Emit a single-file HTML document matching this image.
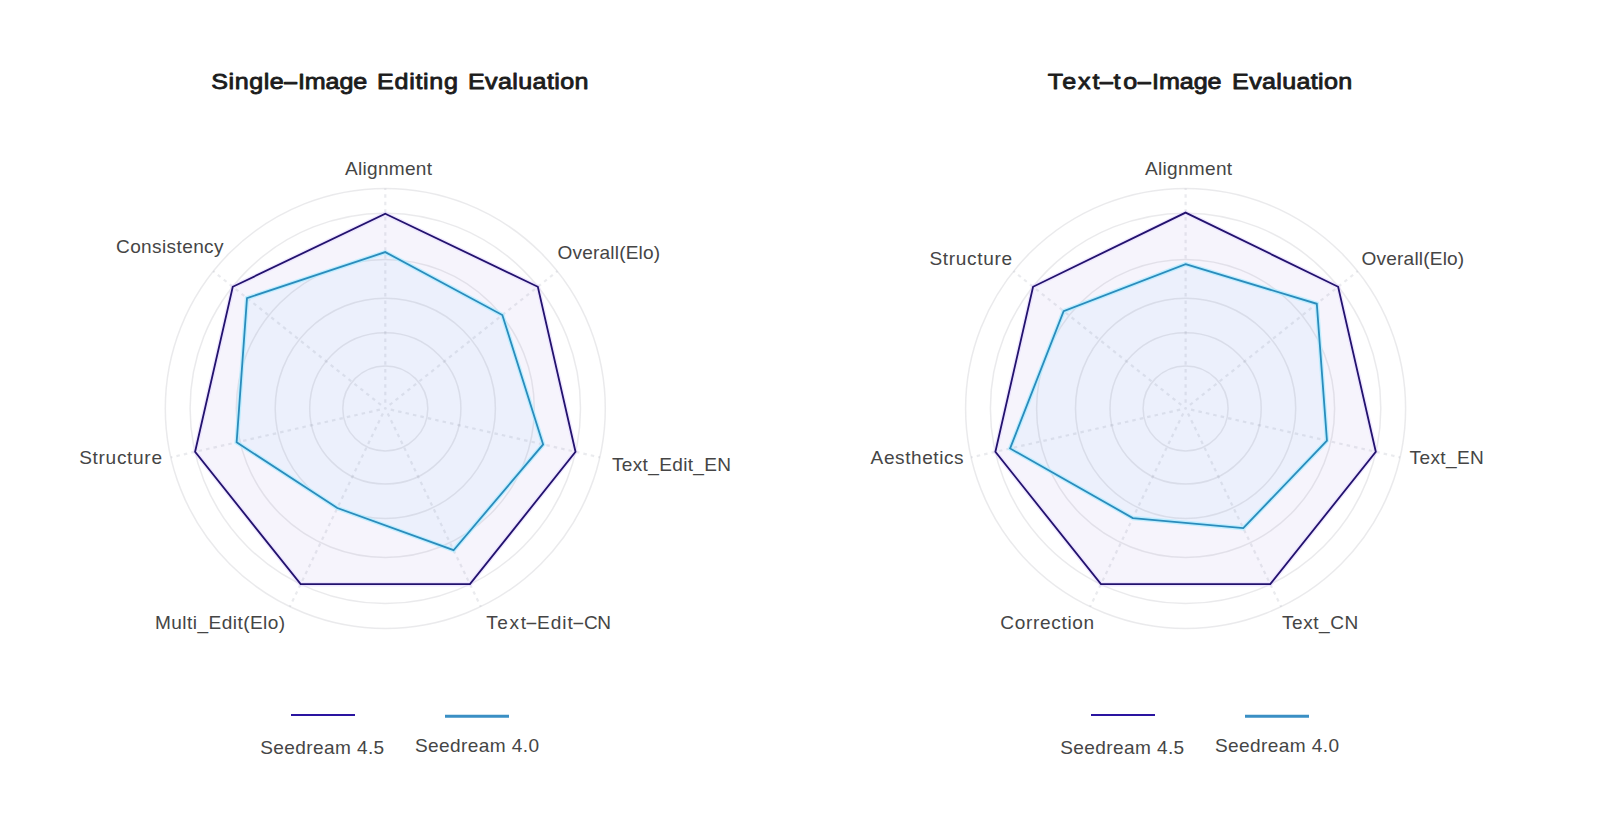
<!DOCTYPE html>
<html lang="en"><head><meta charset="utf-8"><title>Seedream Evaluation</title>
<style>
html,body{margin:0;padding:0;background:#fff;}
body{width:1600px;height:818px;overflow:hidden;font-family:"Liberation Sans",sans-serif;}
svg{display:block}
.lb{font-family:"Liberation Sans",sans-serif;font-size:18px;fill:#454545;}
.tt{font-family:"Liberation Sans",sans-serif;font-size:22px;font-weight:normal;fill:#1c1c1c;stroke:#1c1c1c;stroke-width:0.85px;stroke-linejoin:round;vector-effect:non-scaling-stroke;}
</style></head><body>
<svg width="1600" height="818" viewBox="0 0 1600 818">
<rect width="1600" height="818" fill="#fff"/>
<polygon points="385.30,213.70 537.84,286.76 575.51,451.81 469.95,584.18 300.65,584.18 195.09,451.81 232.76,286.76" fill="#f6f4fc"/>
<polygon points="385.30,252.10 502.34,315.06 543.14,444.43 453.59,550.21 337.31,508.05 236.62,442.33 246.99,298.10" fill="#ecf0fc"/>
<circle cx="385.3" cy="408.4" r="42.5" fill="none" stroke="rgba(100,100,112,0.135)" stroke-width="1.5"/>
<circle cx="385.3" cy="408.4" r="75.6" fill="none" stroke="rgba(100,100,112,0.135)" stroke-width="1.5"/>
<circle cx="385.3" cy="408.4" r="110.1" fill="none" stroke="rgba(100,100,112,0.135)" stroke-width="1.5"/>
<circle cx="385.3" cy="408.4" r="149.0" fill="none" stroke="rgba(100,100,112,0.135)" stroke-width="1.5"/>
<circle cx="385.3" cy="408.4" r="195.2" fill="none" stroke="rgba(100,100,112,0.135)" stroke-width="1.5"/>
<circle cx="385.3" cy="408.4" r="220.0" fill="none" stroke="rgba(100,100,112,0.135)" stroke-width="1.5"/>
<line x1="385.30" y1="402.85" x2="385.30" y2="188.40" stroke="rgba(110,115,140,0.145)" stroke-width="2.2" stroke-dasharray="3.5 4.1"/>
<line x1="389.64" y1="404.94" x2="557.30" y2="271.23" stroke="rgba(110,115,140,0.145)" stroke-width="2.2" stroke-dasharray="3.5 4.1"/>
<line x1="390.71" y1="409.63" x2="599.78" y2="457.35" stroke="rgba(110,115,140,0.145)" stroke-width="2.2" stroke-dasharray="3.5 4.1"/>
<line x1="387.71" y1="413.40" x2="480.75" y2="606.61" stroke="rgba(110,115,140,0.145)" stroke-width="2.2" stroke-dasharray="3.5 4.1"/>
<line x1="382.89" y1="413.40" x2="289.85" y2="606.61" stroke="rgba(110,115,140,0.145)" stroke-width="2.2" stroke-dasharray="3.5 4.1"/>
<line x1="379.89" y1="409.63" x2="170.82" y2="457.35" stroke="rgba(110,115,140,0.145)" stroke-width="2.2" stroke-dasharray="3.5 4.1"/>
<line x1="380.96" y1="404.94" x2="213.30" y2="271.23" stroke="rgba(110,115,140,0.145)" stroke-width="2.2" stroke-dasharray="3.5 4.1"/>
<circle cx="385.3" cy="408.4" r="1.4" fill="rgba(110,115,140,0.145)"/>
<polygon points="385.30,213.70 537.84,286.76 575.51,451.81 469.95,584.18 300.65,584.18 195.09,451.81 232.76,286.76" fill="none" stroke="rgba(225,212,255,0.5)" stroke-width="4.4" stroke-linejoin="miter"/>
<polygon points="385.30,252.10 502.34,315.06 543.14,444.43 453.59,550.21 337.31,508.05 236.62,442.33 246.99,298.10" fill="none" stroke="rgba(180,236,255,0.8)" stroke-width="4.4" stroke-linejoin="miter"/>
<polygon points="385.30,213.70 537.84,286.76 575.51,451.81 469.95,584.18 300.65,584.18 195.09,451.81 232.76,286.76" fill="none" stroke="#22126e" stroke-width="1.8" stroke-linejoin="miter"/>
<polygon points="385.30,252.10 502.34,315.06 543.14,444.43 453.59,550.21 337.31,508.05 236.62,442.33 246.99,298.10" fill="none" stroke="#2a8cbc" stroke-width="1.8" stroke-linejoin="miter"/>
<text class="lb" transform="translate(345.00,175.00) scale(1.06,1)" textLength="82.08" lengthAdjust="spacing">Alignment</text>
<text class="lb" transform="translate(557.60,258.50) scale(1.06,1)" textLength="96.70" lengthAdjust="spacing">Overall(Elo)</text>
<text class="lb" transform="translate(612.00,470.50) scale(1.06,1)" textLength="112.36" lengthAdjust="spacing">Text_Edit_EN</text>
<text class="lb" transform="translate(0,628.90) scale(1.06,1)"><tspan x="458.68" textLength="37.55" lengthAdjust="spacing">Text</tspan><tspan x="495.17" textLength="12.49" lengthAdjust="spacingAndGlyphs">-</tspan><tspan x="506.60" textLength="33.77" lengthAdjust="spacing">Edit</tspan><tspan x="539.44" textLength="12.35" lengthAdjust="spacingAndGlyphs">-</tspan><tspan x="550.85" textLength="25.57" lengthAdjust="spacing">CN</tspan></text>
<text class="lb" transform="translate(155.00,628.90) scale(1.06,1)" textLength="122.83" lengthAdjust="spacing">Multi_Edit(Elo)</text>
<text class="lb" transform="translate(79.20,464.20) scale(1.06,1)" textLength="78.11" lengthAdjust="spacing">Structure</text>
<text class="lb" transform="translate(116.00,252.50) scale(1.06,1)" textLength="101.46" lengthAdjust="spacing">Consistency</text>
<text class="tt" transform="translate(0,88.50) scale(1.14,1)"><tspan x="185.31" textLength="63.60" lengthAdjust="spacing">Single</tspan><tspan x="247.73" textLength="14.19" lengthAdjust="spacingAndGlyphs">-</tspan><tspan x="261.40" textLength="60.75" lengthAdjust="spacing">Image</tspan> <tspan x="330.79" textLength="70.88" lengthAdjust="spacing">Editing</tspan> <tspan x="410.53" textLength="105.70" lengthAdjust="spacing">Evaluation</tspan></text>
<line x1="291" y1="715" x2="355" y2="715" stroke="#2a14a0" stroke-width="2.2"/>
<line x1="445" y1="716.2" x2="509" y2="716.2" stroke="#3a8fc4" stroke-width="3"/>
<text class="lb" transform="translate(260.20,753.60) scale(1.06,1)" textLength="116.98" lengthAdjust="spacing">Seedream 4.5</text>
<text class="lb" transform="translate(415.00,752.40) scale(1.06,1)" textLength="116.98" lengthAdjust="spacing">Seedream 4.0</text>
<polygon points="1185.60,212.60 1338.14,286.76 1375.81,451.81 1270.25,584.18 1100.95,584.18 995.39,451.81 1033.06,286.76" fill="#f6f4fc"/>
<polygon points="1185.60,264.10 1316.79,303.78 1326.96,440.67 1243.26,528.14 1132.80,518.05 1010.11,448.45 1063.63,311.14" fill="#ecf0fc"/>
<circle cx="1185.6" cy="408.4" r="42.5" fill="none" stroke="rgba(100,100,112,0.135)" stroke-width="1.5"/>
<circle cx="1185.6" cy="408.4" r="75.6" fill="none" stroke="rgba(100,100,112,0.135)" stroke-width="1.5"/>
<circle cx="1185.6" cy="408.4" r="110.1" fill="none" stroke="rgba(100,100,112,0.135)" stroke-width="1.5"/>
<circle cx="1185.6" cy="408.4" r="149.0" fill="none" stroke="rgba(100,100,112,0.135)" stroke-width="1.5"/>
<circle cx="1185.6" cy="408.4" r="195.2" fill="none" stroke="rgba(100,100,112,0.135)" stroke-width="1.5"/>
<circle cx="1185.6" cy="408.4" r="220.0" fill="none" stroke="rgba(100,100,112,0.135)" stroke-width="1.5"/>
<line x1="1185.60" y1="402.85" x2="1185.60" y2="188.40" stroke="rgba(110,115,140,0.145)" stroke-width="2.2" stroke-dasharray="3.5 4.1"/>
<line x1="1189.94" y1="404.94" x2="1357.60" y2="271.23" stroke="rgba(110,115,140,0.145)" stroke-width="2.2" stroke-dasharray="3.5 4.1"/>
<line x1="1191.01" y1="409.63" x2="1400.08" y2="457.35" stroke="rgba(110,115,140,0.145)" stroke-width="2.2" stroke-dasharray="3.5 4.1"/>
<line x1="1188.01" y1="413.40" x2="1281.05" y2="606.61" stroke="rgba(110,115,140,0.145)" stroke-width="2.2" stroke-dasharray="3.5 4.1"/>
<line x1="1183.19" y1="413.40" x2="1090.15" y2="606.61" stroke="rgba(110,115,140,0.145)" stroke-width="2.2" stroke-dasharray="3.5 4.1"/>
<line x1="1180.19" y1="409.63" x2="971.12" y2="457.35" stroke="rgba(110,115,140,0.145)" stroke-width="2.2" stroke-dasharray="3.5 4.1"/>
<line x1="1181.26" y1="404.94" x2="1013.60" y2="271.23" stroke="rgba(110,115,140,0.145)" stroke-width="2.2" stroke-dasharray="3.5 4.1"/>
<circle cx="1185.6" cy="408.4" r="1.4" fill="rgba(110,115,140,0.145)"/>
<polygon points="1185.60,212.60 1338.14,286.76 1375.81,451.81 1270.25,584.18 1100.95,584.18 995.39,451.81 1033.06,286.76" fill="none" stroke="rgba(225,212,255,0.5)" stroke-width="4.4" stroke-linejoin="miter"/>
<polygon points="1185.60,264.10 1316.79,303.78 1326.96,440.67 1243.26,528.14 1132.80,518.05 1010.11,448.45 1063.63,311.14" fill="none" stroke="rgba(180,236,255,0.8)" stroke-width="4.4" stroke-linejoin="miter"/>
<polygon points="1185.60,212.60 1338.14,286.76 1375.81,451.81 1270.25,584.18 1100.95,584.18 995.39,451.81 1033.06,286.76" fill="none" stroke="#22126e" stroke-width="1.8" stroke-linejoin="miter"/>
<polygon points="1185.60,264.10 1316.79,303.78 1326.96,440.67 1243.26,528.14 1132.80,518.05 1010.11,448.45 1063.63,311.14" fill="none" stroke="#2a8cbc" stroke-width="1.8" stroke-linejoin="miter"/>
<text class="lb" transform="translate(1145.00,174.70) scale(1.06,1)" textLength="82.17" lengthAdjust="spacing">Alignment</text>
<text class="lb" transform="translate(1361.60,265.10) scale(1.06,1)" textLength="96.79" lengthAdjust="spacing">Overall(Elo)</text>
<text class="lb" transform="translate(1409.60,464.20) scale(1.06,1)" textLength="70.00" lengthAdjust="spacing">Text_EN</text>
<text class="lb" transform="translate(1282.00,628.90) scale(1.06,1)" textLength="71.89" lengthAdjust="spacing">Text_CN</text>
<text class="lb" transform="translate(1000.20,628.90) scale(1.06,1)" textLength="88.68" lengthAdjust="spacing">Correction</text>
<text class="lb" transform="translate(870.60,464.20) scale(1.06,1)" textLength="87.74" lengthAdjust="spacing">Aesthetics</text>
<text class="lb" transform="translate(929.40,264.90) scale(1.06,1)" textLength="78.11" lengthAdjust="spacing">Structure</text>
<text class="tt" transform="translate(0,88.50) scale(1.14,1)"><tspan x="919.08" textLength="45.39" lengthAdjust="spacing">Text</tspan><tspan x="963.11" textLength="14.58" lengthAdjust="spacingAndGlyphs">-</tspan><tspan x="976.84" textLength="20.75" lengthAdjust="spacing">to</tspan><tspan x="996.58" textLength="14.51" lengthAdjust="spacingAndGlyphs">-</tspan><tspan x="1010.61" textLength="60.96" lengthAdjust="spacing">Image</tspan> <tspan x="1080.79" textLength="105.39" lengthAdjust="spacing">Evaluation</tspan></text>
<line x1="1091" y1="715" x2="1155" y2="715" stroke="#2a14a0" stroke-width="2.2"/>
<line x1="1245" y1="716.2" x2="1309" y2="716.2" stroke="#3a8fc4" stroke-width="3"/>
<text class="lb" transform="translate(1060.20,753.60) scale(1.06,1)" textLength="116.98" lengthAdjust="spacing">Seedream 4.5</text>
<text class="lb" transform="translate(1215.00,752.40) scale(1.06,1)" textLength="116.98" lengthAdjust="spacing">Seedream 4.0</text>
</svg>
</body></html>
